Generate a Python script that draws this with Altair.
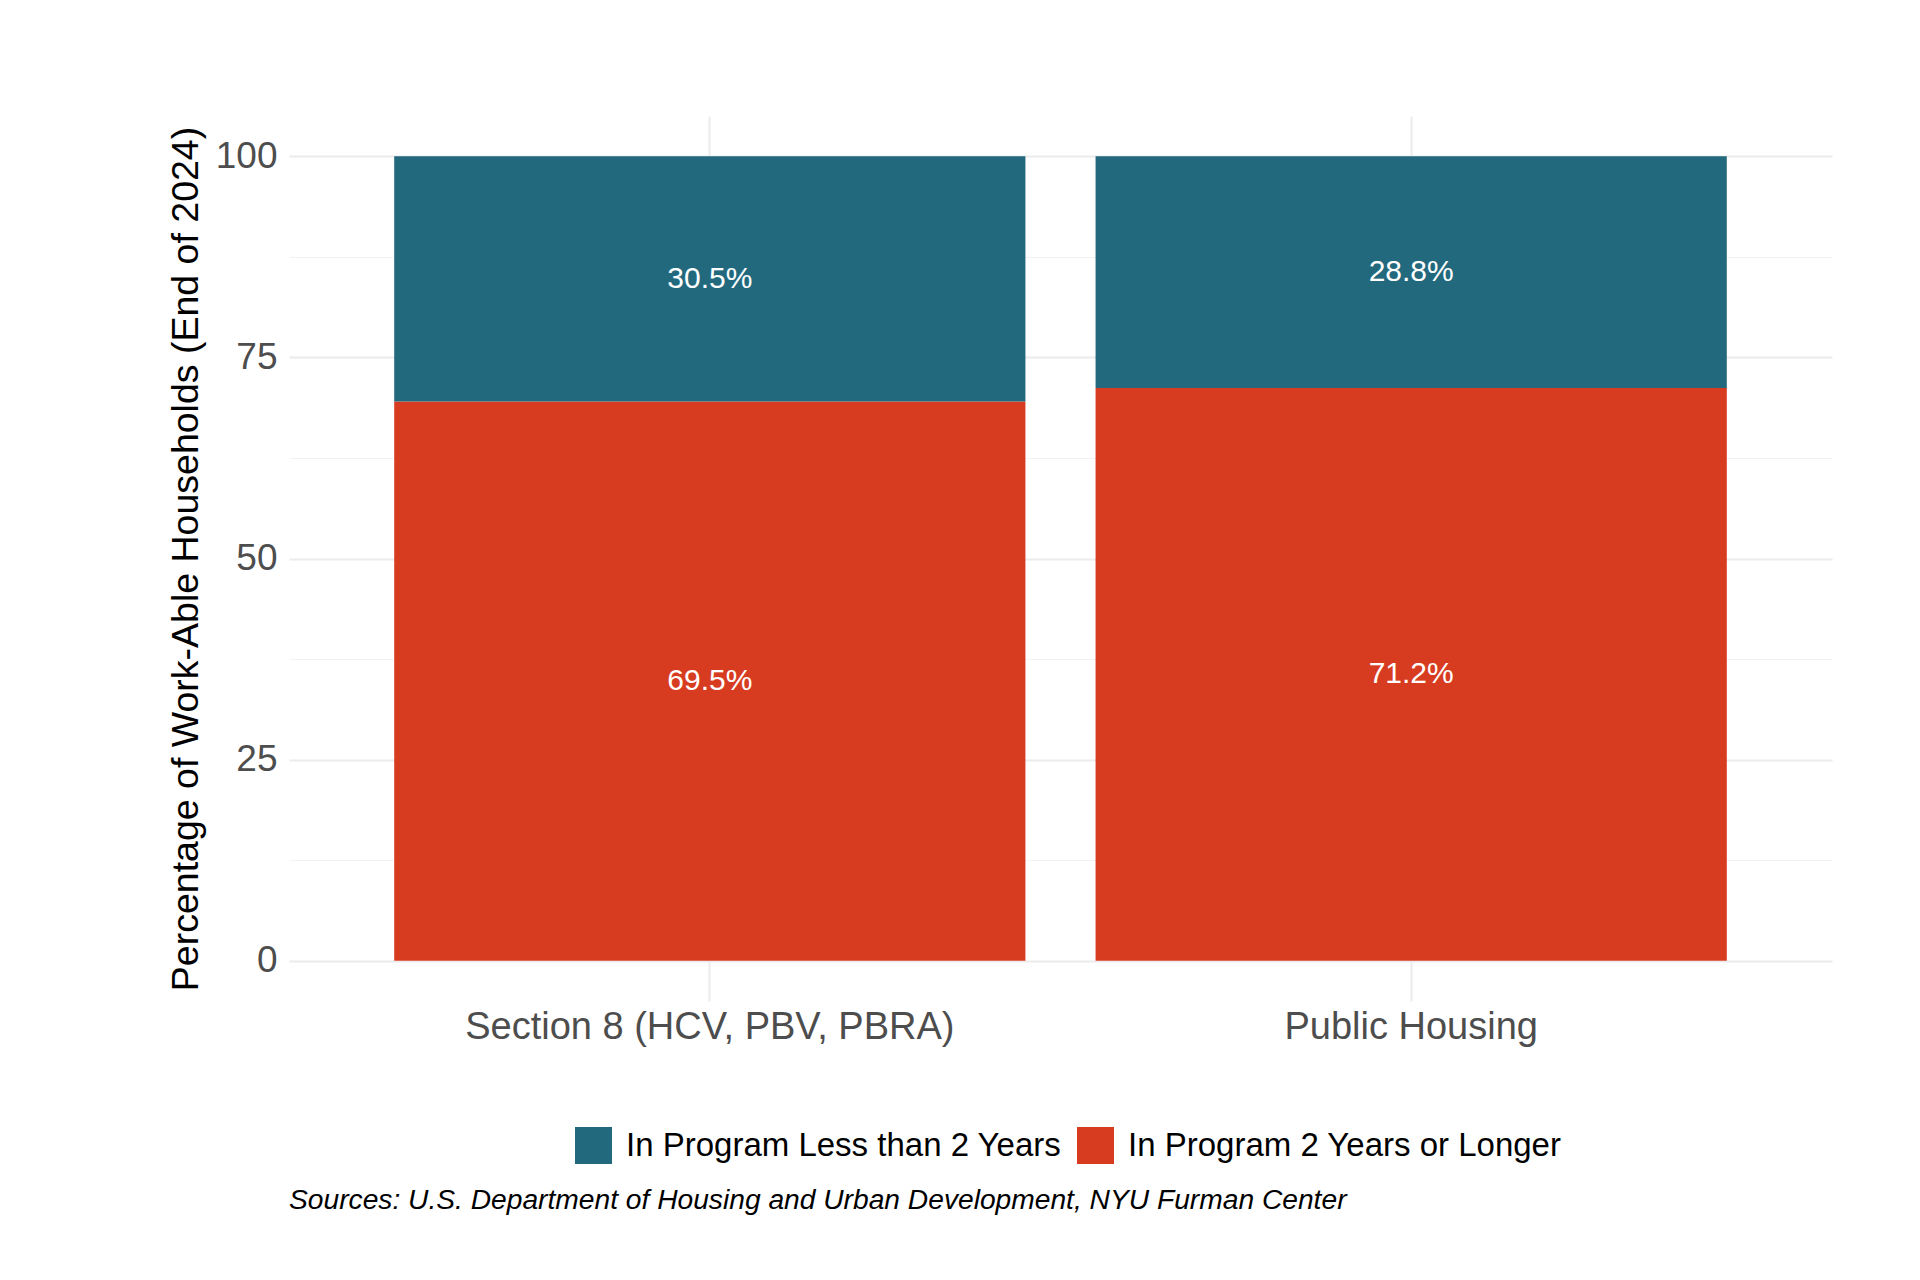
import altair as alt
import pandas as pd

categories = ["Section 8 (HCV, PBV, PBRA)", "Public Housing"]
less_than_2 = [30.5, 28.8]
two_or_longer = [69.5, 71.2]
series_names = ["In Program Less than 2 Years", "In Program 2 Years or Longer"]
series_colors = ["#23697E", "#D73C21"]
y_ticks = [0, 25, 50, 75, 100]
y_minor = [12.5, 37.5, 62.5, 87.5]
y_title = "Percentage of Work-Able Households (End of 2024)"
source_text = "Sources: U.S. Department of Housing and Urban Development, NYU Furman Center"

FONT = "Liberation Sans"

rows = []
for i, c in enumerate(categories):
    rows.append({"category": c, "series": series_names[1], "value": two_or_longer[i], "order": 0})
    rows.append({"category": c, "series": series_names[0], "value": less_than_2[i], "order": 1})
df = pd.DataFrame(rows)

base = alt.Chart(df).transform_stack(
    stack="value",
    groupby=["category"],
    sort=[alt.SortField("order", "ascending")],
    as_=["y0", "y1"],
).transform_calculate(
    mid="(datum.y0 + datum.y1) / 2",
    label="format(datum.value, '.1f') + '%'",
)

x_enc = alt.X(
    "category:N",
    sort=categories,
    scale=alt.Scale(paddingInner=0.1, paddingOuter=0.15),
    axis=alt.Axis(
        title=None,
        labelAngle=0,
        labelLimit=0,
        domain=False,
        ticks=False,
        tickSize=0,
        grid=True,
        gridColor="#EBEBEB",
        gridWidth=2,
        bandPosition=0.5,
        labelFontSize=38,
        labelFont=FONT,
        labelColor="#4D4D4D",
        labelPadding=7,
    ),
)

y_scale = alt.Scale(domain=[-5, 105], nice=False, zero=False)

bars = base.mark_bar().encode(
    x=x_enc,
    y=alt.Y(
        "y0:Q",
        scale=y_scale,
        axis=alt.Axis(
            title=y_title,
            values=y_ticks + y_minor,
            labelExpr="datum.value % 25 === 0 ? datum.label : ''",
            labelLimit=0,
            domain=False,
            ticks=False,
            tickSize=0,
            grid=True,
            gridColor={"condition": {"test": "datum.value % 25 === 0", "value": "#EBEBEB"}, "value": "#F2F2F2"},
            gridWidth={"condition": {"test": "datum.value % 25 === 0", "value": 2}, "value": 1.2},
            labelFontSize=37,
            labelFont=FONT,
            labelColor="#4D4D4D",
            labelPadding=12,
            titleFont=FONT,
            titleFontSize=37.5,
            titleFontWeight="normal",
            titleColor="black",
            titlePadding=10,
        ),
    ),
    y2="y1:Q",
    color=alt.Color(
        "series:N",
        scale=alt.Scale(domain=series_names, range=series_colors),
        legend=alt.Legend(
            title=None,
            orient="none",
            legendX=286,
            legendY=1011,
            direction="horizontal",
            symbolType="square",
            symbolSize=1369,
            symbolStrokeWidth=0,
            symbolOpacity=1,
            labelFontSize=33,
            labelFont=FONT,
            labelColor="black",
            labelLimit=0,
            labelOffset=14,
            columnPadding=15,
            padding=0,
        ),
    ),
)

texts = base.mark_text(color="white", fontSize=30, font=FONT).encode(
    x=alt.X("category:N", sort=categories),
    y=alt.Y("mid:Q", scale=y_scale),
    text="label:N",
)

caption = alt.Chart(pd.DataFrame({"t": [source_text]})).mark_text(
    align="left", baseline="middle", fontSize=28.2, fontStyle="italic", font=FONT, color="black"
).encode(text="t:N", x=alt.value(0), y=alt.value(1085))

chart = alt.layer(bars, texts, caption).properties(
    width=1543,
    height=885,
    autosize="none",
    padding={"left": 281, "top": 108, "right": 80, "bottom": 260},
).configure_view(stroke=None)

chart.save("out.html", embed_options={"renderer": "svg", "actions": False})
